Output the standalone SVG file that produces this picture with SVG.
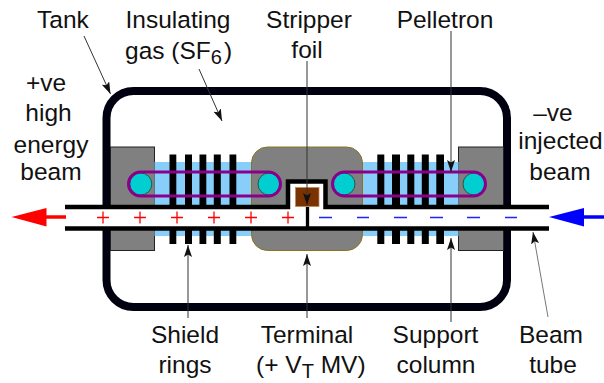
<svg xmlns="http://www.w3.org/2000/svg" width="604" height="383" viewBox="0 0 604 383">
<style>
text{font-family:"Liberation Sans",Arial,Helvetica,sans-serif;font-size:24.500px;fill:#111;text-anchor:middle}
.gray{fill:#808080;stroke:#222;stroke-width:1}
.term{fill:#808080;stroke:#8a7420;stroke-width:1}
.blue{fill:#87cefa}
.bar{fill:#000}
.belt{fill:none;stroke:#8b008b;stroke-width:3}
.roll{fill:#00ced1;stroke:#24584a;stroke-width:1}
.tube{fill:none;stroke:#000;stroke-width:4.500}
.lead{fill:none;stroke:#333;stroke-width:1;marker-end:url(#tip)}
.plus{stroke:#f00;stroke-width:1.300;fill:none}
.minus{stroke:#2222ff;stroke-width:1.600;fill:none}
</style>
<defs>
<marker id="tip" markerUnits="userSpaceOnUse" markerWidth="13" markerHeight="9" refX="12" refY="4" orient="auto">
<path d="M0 0L12 4L0 8L2.500 4Z" fill="#111"/>
</marker>
</defs>
<rect width="604" height="383" fill="#fff"/>
<g id="tank">
<rect x="106.500" y="91" width="400.500" height="216" rx="27" fill="#fff" stroke="#000010" stroke-width="8"/>
</g>
<g id="end-plates">
<rect class="gray" x="110.500" y="147" width="44" height="103.500"/>
<rect class="gray" x="458.500" y="147" width="45" height="103.500"/>
</g>
<g id="support-column">
<rect class="blue" x="154.500" y="162" width="97.500" height="74"/>
<rect class="blue" x="362" y="162" width="96.500" height="74"/>
</g>
<g id="shield-rings">
<rect class="bar" x="169.500" y="154.500" width="6.800" height="89.500"/>
<rect class="bar" x="185" y="154.500" width="7" height="89.500"/>
<rect class="bar" x="199.500" y="154.500" width="6.800" height="89.500"/>
<rect class="bar" x="213.800" y="154.500" width="7" height="89.500"/>
<rect class="bar" x="229.500" y="154.500" width="6.800" height="89.500"/>
<rect class="bar" x="377.300" y="154.500" width="7" height="89.500"/>
<rect class="bar" x="392" y="154.500" width="8" height="89.500"/>
<rect class="bar" x="407.300" y="154.500" width="7" height="89.500"/>
<rect class="bar" x="421.800" y="154.500" width="7" height="89.500"/>
<rect class="bar" x="436.300" y="154.500" width="7.700" height="89.500"/>
</g>
<g id="terminal">
<rect class="term" x="251.500" y="147" width="111" height="103.500" rx="16"/>
</g>
<g id="beam-tube">
<rect x="65" y="207" width="484" height="21.500" fill="#fff"/>
<rect x="288" y="181.500" width="37.500" height="27" fill="#fff"/>
<path class="tube" d="M65 207H288V181.500H325.500V207H549"/>
<path class="tube" d="M65 228.500H549"/>
<path class="tube" style="stroke-width:3.300" d="M307.500 207V228.500"/>
</g>
<g id="foil">
<rect x="295.500" y="187.500" width="23.500" height="19" fill="#7a3300" stroke="#b98a60" stroke-width="0.800"/>
</g>
<g id="pelletron-left">
<circle class="roll" cx="140.800" cy="184" r="11"/>
<circle class="roll" cx="269" cy="184" r="11"/>
<rect class="belt" x="128.500" y="172" width="152" height="24" rx="12"/>
</g>
<g id="pelletron-right">
<circle class="roll" cx="344" cy="184" r="11"/>
<circle class="roll" cx="474" cy="184" r="11"/>
<rect class="belt" x="332.500" y="172" width="153" height="24" rx="12"/>
</g>
<g id="charges">
<path class="plus" d="M97 217.500H109M103 211.500V223.500M134 217.500H146M140 211.500V223.500M171 217.500H183M177 211.500V223.500M208 217.500H220M214 211.500V223.500M245 217.500H257M251 211.500V223.500M282 217.500H294M288 211.500V223.500"/>
<path class="minus" d="M319 217.500H332M357 217.500H369M394 217.500H407M430 217.500H443M467 217.500H480M505 217.500H517"/>
</g>
<g id="beam-arrows">
<path d="M66 217H44" stroke="#f00" stroke-width="3.500"/>
<path d="M11.500 217L46.500 208V226.500Z" fill="#f00"/>
<path d="M604 217H582" stroke="#00f" stroke-width="3.500"/>
<path d="M549 217L584 208V226.500Z" fill="#00f"/>
</g>
<g id="connectors">
<path class="lead" d="M84 36L110.500 94"/>
<path class="lead" d="M199 69L222 121"/>
<path class="lead" d="M307 61V205"/>
<path class="lead" d="M451 31V172"/>
<path class="lead" d="M188 318V245"/>
<path class="lead" d="M307 318V254"/>
<path class="lead" d="M451 322V238"/>
<path class="lead" d="M548 317L533 232" style="stroke:#777"/>
</g>
<g id="labels">
<text x="63" y="28">Tank</text>
<text x="178" y="28">Insulating</text>
<text x="125" y="59" style="text-anchor:start">gas (SF<tspan font-size="20" dy="5">6</tspan><tspan dy="-5" dx="2">)</tspan></text>
<text x="309" y="28">Stripper</text>
<text x="307" y="58">foil</text>
<text x="445" y="28">Pelletron</text>
<text x="46" y="91">+ve</text>
<text x="48.500" y="121">high</text>
<text x="51" y="153">energy</text>
<text x="51" y="180">beam</text>
<text x="553" y="121">–ve</text>
<text x="560.500" y="149">injected</text>
<text x="560" y="180">beam</text>
<text x="185" y="343">Shield</text>
<text x="185" y="373">rings</text>
<text x="307" y="343">Terminal</text>
<text x="256" y="373" style="text-anchor:start">(+ V<tspan font-size="20" dy="5">T</tspan><tspan dy="-5"> MV)</tspan></text>
<text x="435.500" y="343">Support</text>
<text x="436" y="373">column</text>
<text x="551" y="343">Beam</text>
<text x="553" y="373">tube</text>
</g>
</svg>
